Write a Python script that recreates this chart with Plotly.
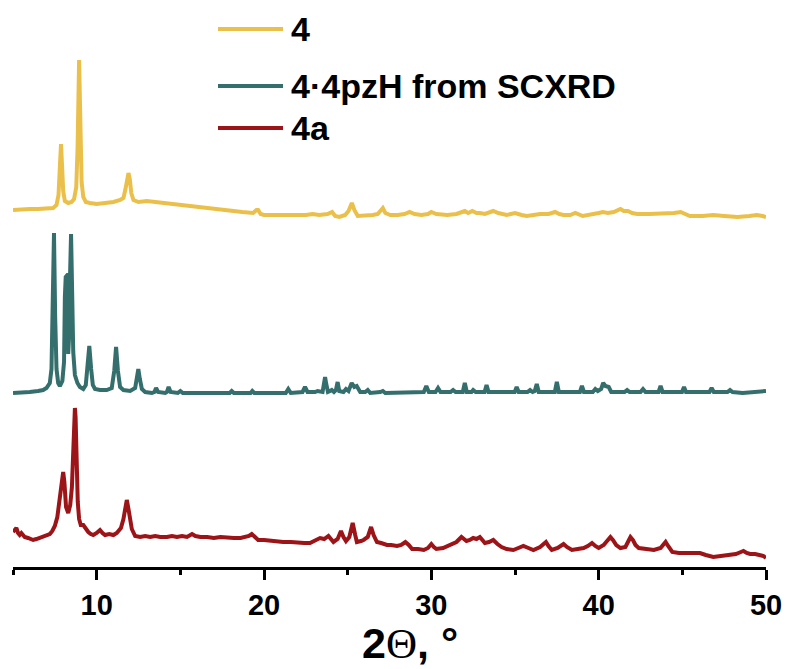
import plotly.graph_objects as go

# ---- Powder patterns (2-theta in degrees, stacked intensity in a.u.) ----
tt_4 = [5.0, 5.5, 6.0, 6.5, 7.0, 7.4, 7.6, 7.72, 7.8, 7.87, 7.93, 8.0, 8.1, 8.3, 8.5,
        8.65, 8.78, 8.86, 8.95, 9.03, 9.1, 9.2, 9.35, 9.6, 10.0, 10.5, 11.0, 11.4, 11.6,
        11.72, 11.82, 11.9, 11.98, 12.07, 12.2, 12.5, 13.0, 13.5, 14.0, 14.5, 15.0, 15.5,
        16.2, 17.0, 18.0, 18.7, 19.35, 19.55, 19.65, 19.8, 20.0, 20.5, 21.0, 21.5, 22.0,
        22.5, 22.9, 23.3, 23.8, 24.07, 24.25, 24.5, 24.85, 25.05, 25.25, 25.4, 25.6, 26.0,
        26.5, 26.8, 27.0, 27.1, 27.25, 27.55, 28.0, 28.4, 28.7, 29.0, 29.4, 29.8, 30.0,
        30.3, 30.95, 31.5, 32.0, 32.2, 32.45, 32.7, 32.9, 33.2, 33.7, 34.0, 34.5, 35.0,
        35.4, 35.7, 36.1, 36.5, 37.0, 37.4, 37.65, 37.9, 38.3, 38.6, 39.05, 39.5, 40.0,
        40.25, 40.55, 40.9, 41.15, 41.3, 41.5, 41.75, 42.0, 42.3, 43.0, 43.85, 44.5, 44.9,
        45.2, 45.45, 46.2, 46.85, 47.5, 48.3, 49.0, 49.45, 49.8, 50.0]
int_4 = [357, 358, 358, 358, 359, 359, 362, 372, 400, 423, 402, 376, 366, 364, 365,
         368, 380, 420, 507, 430, 385, 370, 365, 364, 363, 364, 365, 367, 369,
         378, 390, 394, 388, 374, 367, 365, 366, 365, 364, 363, 362, 361,
         359, 358, 356, 355, 354, 357, 357, 353, 352, 352, 351, 351, 352,
         352, 353, 352, 353, 355, 351, 350, 352, 356, 364, 357, 351, 351,
         352, 353, 357, 359, 354, 352, 352, 353, 355, 353, 352, 353, 355,
         353, 352, 353, 356, 354, 356, 354, 354, 353, 356, 354, 352, 354,
         352, 351, 352, 353, 353, 355, 353, 352, 352, 354, 351, 352, 354,
         355, 354, 355, 357, 358, 356, 356, 354, 353, 353, 353, 354, 355,
         353, 351, 351, 352, 351, 350, 351, 352, 351, 350]

tt_scxrd = [5.0, 5.5, 6.0, 6.5, 6.8, 7.0, 7.2, 7.3, 7.38, 7.45, 7.52, 7.6, 7.7, 7.8, 7.95,
            8.05, 8.1, 8.15, 8.25, 8.28, 8.3, 8.35, 8.4, 8.47, 8.54, 8.6, 8.7, 8.85, 9.0,
            9.2, 9.35, 9.45, 9.56, 9.67, 9.77, 9.9, 10.2, 10.6, 10.9, 11.05, 11.16, 11.27,
            11.4, 11.6, 12.0, 12.3, 12.4, 12.49, 12.58, 12.7, 12.9, 13.3, 13.45, 13.55, 13.67,
            14.1, 14.2, 14.3, 14.42, 14.85, 15.0, 15.15, 17.95, 18.07, 18.2, 19.2, 19.3, 19.42,
            21.3, 21.45, 21.6, 22.3, 22.45, 22.6, 23.05, 23.2, 23.5, 23.6, 23.65, 23.72, 23.82,
            23.95, 24.05, 24.18, 24.3, 24.4, 24.5, 24.75, 24.9, 25.05, 25.24, 25.4, 25.54,
            25.75, 26.05, 26.2, 26.35, 26.95, 27.1, 27.25, 27.95, 28.1, 28.25, 29.55, 29.7,
            29.85, 30.25, 30.4, 30.55, 31.15, 31.3, 31.45, 31.88, 32.0, 32.12, 32.4, 32.5,
            32.65, 33.18, 33.3, 33.42, 34.05, 34.2, 34.35, 34.98, 35.1, 35.22, 35.75, 35.9,
            36.05, 36.18, 36.3, 36.42, 37.38, 37.5, 37.62, 38.88, 39.0, 39.12, 39.65, 39.8,
            39.95, 40.15, 40.27, 40.4, 40.6, 40.75, 41.55, 41.7, 41.85, 42.5, 42.65, 42.8,
            43.58, 43.7, 43.82, 44.55, 44.7, 44.85, 44.98, 45.1, 45.22, 46.62, 46.75, 46.88,
            47.7, 47.85, 48.0, 48.6, 49.2, 50.0]
int_scxrd = [174, 174, 175, 176, 177, 179, 184, 198, 250, 334, 250, 198, 184, 181, 186,
             205, 270, 290, 292, 292, 213, 230, 285, 333, 270, 215, 192, 184, 180,
             178, 182, 198, 221, 198, 182, 178, 177, 177, 179, 196, 220, 196,
             180, 177, 176, 179, 188, 198, 188, 178, 175, 174, 175, 179, 175,
             174, 175, 180, 175, 174, 176, 174, 174, 176, 174, 174, 176, 174,
             174, 178, 174, 175, 180, 175, 175, 176, 175, 184, 190, 183, 175,
             176, 177, 175, 177, 185, 176, 175, 178, 176, 184, 180, 181,
             175, 175, 177, 174, 175, 176, 174, 174, 175, 174, 175, 181,
             175, 175, 179, 175, 175, 177, 175, 175, 184, 175, 175, 177,
             175, 175, 182, 175, 175, 176, 175, 175, 180, 175, 175, 177,
             175, 176, 183, 175, 175, 185, 175, 175, 181, 175, 175, 178,
             176, 178, 184, 181, 180, 175, 175, 177, 175, 175, 178, 175,
             175, 181, 175, 175, 176, 175, 175, 180, 175, 175, 179, 175,
             175, 177, 175, 174, 175, 176]

tt_4a = [5.0, 5.1, 5.2, 5.3, 5.4, 5.5, 5.6, 5.7, 5.9, 6.0, 6.2, 6.4, 6.6, 6.8, 7.0, 7.2,
         7.35, 7.5, 7.65, 7.8, 7.92, 8.0, 8.07, 8.17, 8.3, 8.42, 8.52, 8.6, 8.66, 8.7, 8.74,
         8.8, 8.87, 8.95, 9.05, 9.2, 9.35, 9.5, 9.65, 9.8, 10.0, 10.2, 10.35, 10.5, 10.75,
         11.0, 11.2, 11.45, 11.6, 11.72, 11.8, 11.88, 11.97, 12.1, 12.3, 12.6, 12.9, 13.2,
         13.5, 13.8, 14.2, 14.5, 14.8, 15.1, 15.4, 15.7, 15.9, 16.2, 16.6, 17.0, 17.4, 17.8,
         18.2, 18.6, 18.9, 19.1, 19.27, 19.45, 19.65, 20.0, 20.4, 20.8, 21.15, 21.6, 22.0,
         22.4, 22.75, 23.0, 23.35, 23.6, 23.85, 24.0, 24.15, 24.4, 24.6, 24.75, 24.9, 25.1,
         25.3, 25.45, 25.55, 25.8, 25.95, 26.2, 26.4, 26.55, 26.75, 27.0, 27.35, 27.6, 27.95,
         28.2, 28.45, 28.65, 28.85, 29.2, 29.55, 29.8, 30.0, 30.15, 30.3, 30.7, 31.1, 31.5,
         31.8, 32.0, 32.1, 32.3, 32.5, 32.7, 32.9, 33.05, 33.2, 33.45, 33.7, 33.95, 34.2,
         34.5, 34.9, 35.2, 35.5, 35.8, 36.1, 36.5, 36.85, 37.0, 37.2, 37.55, 37.9, 38.1,
         38.4, 38.75, 39.1, 39.35, 39.6, 39.8, 40.0, 40.3, 40.55, 40.7, 40.85, 41.05, 41.3,
         41.6, 41.75, 41.9, 42.05, 42.2, 42.4, 42.8, 43.3, 43.7, 43.9, 44.0, 44.15, 44.4,
         44.8, 45.25, 45.6, 46.05, 46.4, 46.85, 47.3, 47.85, 48.2, 48.5, 48.65, 48.85, 49.05,
         49.35, 49.65, 49.85, 50.0]
int_4a = [35, 38, 39, 34, 32, 34, 31, 30, 29, 28, 27, 28, 29, 30, 31, 33,
          36, 41, 50, 66, 85, 95, 85, 60, 54, 62, 80, 115, 150, 159, 150,
          105, 65, 48, 42, 42, 38, 35, 33, 32, 34, 37, 34, 32, 33,
          32, 34, 39, 48, 60, 67, 60, 48, 38, 31, 30, 31, 30,
          31, 30, 30, 31, 30, 31, 30, 33, 31, 30, 30, 29, 30, 29,
          29, 29, 30, 31, 33, 30, 27, 27, 26, 26, 25, 25, 24,
          24, 24, 26, 29, 28, 31, 28, 25, 28, 36, 30, 26, 30,
          44, 32, 25, 26, 27, 30, 40, 32, 25, 24, 22, 22, 21,
          22, 25, 22, 18, 18, 17, 19, 23, 20, 18, 19, 22, 25,
          30, 28, 26, 27, 29, 28, 30, 27, 24, 25, 27, 23, 20,
          18, 17, 19, 21, 19, 17, 20, 25, 21, 17, 19, 23, 20,
          17, 18, 19, 21, 24, 21, 19, 22, 27, 30, 27, 22, 19,
          20, 25, 30, 27, 22, 19, 18, 17, 19, 23, 25, 21, 15,
          14, 14, 15, 14, 12, 10, 11, 12, 13, 15, 16, 14, 13,
          13, 12, 11, 9]

series = [
    ("4", tt_4, int_4, "#EBC04A"),
    ("4·4pzH from SCXRD", tt_scxrd, int_scxrd, "#346F6D"),
    ("4a", tt_4a, int_4a, "#9C1417"),
]

x_ticks = [10, 20, 30, 40, 50]
x_minor = [5, 15, 25, 35, 45]

FONT = "Arial, Liberation Sans, sans-serif"
PLOT_W, PLOT_H = 753, 567   # plot-area size in px (from the margins below)

fig = go.Figure()
for name, x, y, color in series:
    fig.add_trace(go.Scatter(
        x=x, y=y, mode="lines", name=name,
        line=dict(color=color, width=4),
        showlegend=False,
    ))

# Legend: sample line plus bold label per row
legend_rows_px = [29, 86, 128]
for (name, _, _, color), ypx in zip(series, legend_rows_px):
    yrow = (PLOT_H - ypx) / PLOT_H
    fig.add_shape(type="line", xref="paper", yref="paper",
                  x0=(218 - 13) / PLOT_W, x1=(283 - 13) / PLOT_W, y0=yrow, y1=yrow,
                  line=dict(color=color, width=4))
    fig.add_annotation(xref="paper", yref="paper",
                       x=(289 - 13) / PLOT_W, y=yrow, xanchor="left", yanchor="middle",
                       text=name, showarrow=False,
                       font=dict(family=FONT, size=34, color="black", weight="bold"))

# Axis title
fig.add_annotation(
    xref="paper", yref="paper", x=(410 - 13) / PLOT_W, y=-(643 - PLOT_H) / PLOT_H,
    xanchor="center", yanchor="middle", showarrow=False,
    text='<b>2</b><span style="font-family:Liberation Serif">Θ</span><b>, °</b>',
    font=dict(family=FONT, size=43, color="black"),
)

fig.update_layout(
    width=790, height=669,
    margin=dict(l=13, r=24, t=0, b=102),
    paper_bgcolor="white", plot_bgcolor="white",
    xaxis=dict(
        range=[5, 50], tickvals=x_ticks, ticktext=[str(v) for v in x_ticks],
        showline=True, linecolor="black", linewidth=3,
        ticks="outside", ticklen=10, tickwidth=3, tickcolor="black",
        minor=dict(ticks="outside", ticklen=5, tickwidth=3, tickcolor="black",
                   tickvals=x_minor),
        showgrid=False, zeroline=False,
        tickfont=dict(family=FONT, size=29, color="black", weight="bold"),
    ),
    yaxis=dict(range=[0, PLOT_H], visible=False, showgrid=False, zeroline=False),
)

fig.write_html("out.html")
